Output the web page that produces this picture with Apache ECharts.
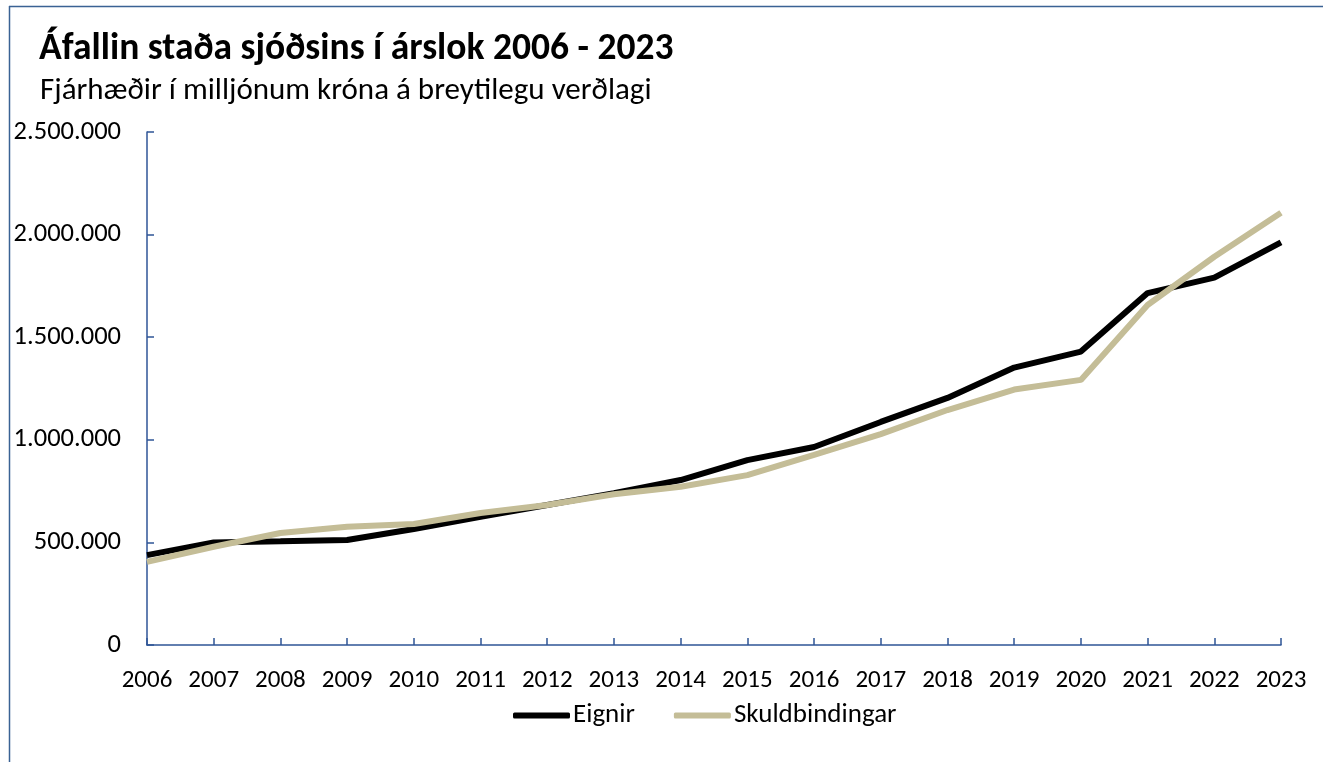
<!DOCTYPE html>
<html><head><meta charset="utf-8">
<script src="https://cdn.jsdelivr.net/npm/echarts@6/dist/echarts.min.js"></script>
<style>html,body{margin:0;padding:0;background:#fff}#c{width:1323px;height:762px}</style>
</head><body><div id="c"></div>
<script>
const years = ['2006','2007','2008','2009','2010','2011','2012','2013','2014','2015','2016','2017','2018','2019','2020','2021','2022','2023'];
const eignir = [438000,500000,505000,512000,565000,625000,682000,740000,804000,901000,965000,1087000,1204000,1352000,1430000,1715000,1790000,1962000];
const skuldbindingar = [405000,479000,546000,576000,590000,643000,682000,735000,771000,828000,926000,1028000,1145000,1245000,1292000,1657000,1892000,2106000];
const yTicks = [0,500000,1000000,1500000,2000000,2500000];
const FONT = 'Carlito, Lato, sans-serif';
const axisColor = '#2F5597';
function fmt(v){return String(v).replace(/\B(?=(\d{3})+(?!\d))/g,'.');}
const chart = echarts.init(document.getElementById('c'));
chart.setOption({
  animation:false,
  textStyle:{fontFamily:FONT},
  graphic:[
    {type:'line',shape:{x1:9.5,y1:6,x2:9.5,y2:762},style:{stroke:'#3A6294',lineWidth:1.5}},
    {type:'line',shape:{x1:9,y1:6.5,x2:1323,y2:6.5},style:{stroke:'#3A6294',lineWidth:1.5}},
    {type:'text',left:39,top:31,style:{text:'Áfallin staða sjóðsins í árslok 2006 - 2023',font:'bold 37.5px Carlito, Lato, sans-serif',fill:'#000'}},
    {type:'text',left:40,top:76,style:{text:'Fjárhæðir í milljónum króna á breytilegu verðlagi',font:'31px Carlito, Lato, sans-serif',fill:'#000'}}
  ],
  legend:{
    top:697,left:508,
    icon:'roundRect',
    itemWidth:57,itemHeight:6,itemGap:39,
    textStyle:{fontFamily:FONT,fontSize:27,color:'#000',padding:[0,0,0,-2]},
    data:['Eignir','Skuldbindingar']
  },
  grid:{left:147,right:42,top:132,bottom:117},
  xAxis:{
    type:'category',data:years,boundaryGap:false,
    axisLine:{lineStyle:{color:axisColor,width:1.5}},
    axisTick:{inside:true,length:7,lineStyle:{color:axisColor,width:1.5},alignWithLabel:true},
    axisLabel:{color:'#000',fontSize:25,fontFamily:FONT,margin:23,interval:0},
    splitLine:{show:false}
  },
  yAxis:{
    type:'value',min:0,max:2500000,interval:500000,
    axisLine:{show:true,lineStyle:{color:axisColor,width:1.5}},
    axisTick:{show:true,inside:true,length:7,lineStyle:{color:axisColor,width:1.5}},
    axisLabel:{color:'#000',fontSize:26.5,fontFamily:FONT,margin:26,formatter:v=>fmt(v)},
    splitLine:{show:false}
  },
  series:[
    {name:'Eignir',type:'line',data:eignir,symbol:'none',lineStyle:{color:'#000',width:6},itemStyle:{color:'#000'}},
    {name:'Skuldbindingar',type:'line',data:skuldbindingar,symbol:'none',lineStyle:{color:'#C4BD97',width:6},itemStyle:{color:'#C4BD97'}}
  ]
});
</script></body></html>
